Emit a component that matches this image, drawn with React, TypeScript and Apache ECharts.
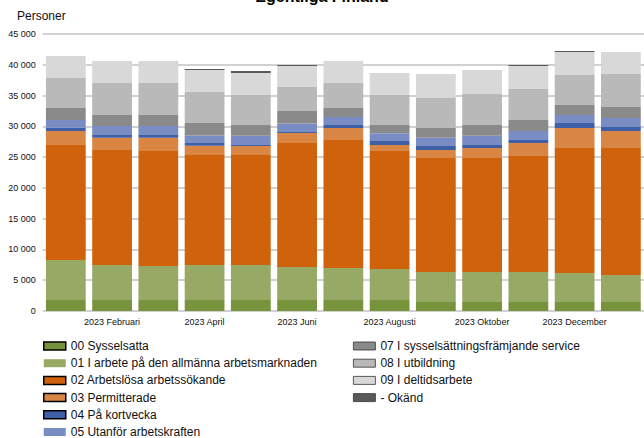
import React, { useEffect, useRef } from "react";
import * as echarts from "echarts";

const categories = [
  "2023 Januari", "2023 Februari", "2023 Mars", "2023 April", "2023 Maj", "2023 Juni",
  "2023 Juli", "2023 Augusti", "2023 September", "2023 Oktober", "2023 November",
  "2023 December", "2024 Januari",
];

const s00 = [1790, 1790, 1790, 1790, 1790, 1790, 1790, 1790, 1460, 1460, 1460, 1460, 1460];
const s01 = [6490, 5680, 5520, 5680, 5680, 5360, 5190, 5030, 4870, 4870, 4870, 4710, 4390];
const s02 = [18680, 18680, 18670, 17860, 17860, 20130, 20790, 19160, 18520, 18520, 18840, 20300, 20620];
const s03 = [2270, 2000, 2170, 1520, 1470, 1630, 1950, 980, 1300, 1620, 2110, 3250, 2760];
const s04 = [540, 430, 430, 430, 160, 160, 490, 650, 650, 490, 490, 810, 650];
const s05 = [1250, 1460, 1460, 1250, 1510, 1410, 1300, 1250, 1350, 1510, 1460, 1300, 1460];
const s07 = [1950, 1790, 1790, 2000, 1740, 2000, 1460, 1350, 1570, 1740, 1790, 1620, 1790];
const s08 = [4870, 5200, 5200, 5040, 4870, 3900, 4060, 4870, 4870, 5030, 5030, 4880, 5360];
const s09 = [3570, 3570, 3570, 3570, 3570, 3410, 3570, 3570, 3900, 3900, 3740, 3730, 3570];
const sOk = [0, 0, 0, 160, 330, 160, 0, 0, 0, 0, 160, 160, 0];

const seriesNames = [
  "00 Sysselsatta",
  "01 I arbete på den allmänna arbetsmarknaden",
  "02 Arbetslösa arbetssökande",
  "03 Permitterade",
  "04 På kortvecka",
  "05 Utanför arbetskraften",
  "07 I sysselsättningsfrämjande service",
  "08 I utbildning",
  "09 I deltidsarbete",
  "- Okänd",
];
const seriesData = [s00, s01, s02, s03, s04, s05, s07, s08, s09, sOk];
const colors = [
  "#77933c", "#97a965", "#d0620c", "#d98544", "#3f5fa6",
  "#7a8cc4", "#8a8a8a", "#bab9b9", "#d8d8d8", "#595959",
];
const yTicks = { min: 0, max: 45000, interval: 5000 };

const FONT = "'Liberation Sans', Arial, sans-serif";

export default function App() {
  const ref = useRef<HTMLDivElement>(null);
  useEffect(() => {
    if (!ref.current) return;
    const chart = echarts.init(ref.current, null, { renderer: "svg" });
    const strong = { borderColor: "#000", borderWidth: 1.5 };
    const thin = { borderColor: "#333", borderWidth: 0.8 };
    const legendStyles = [strong, null, strong, strong, strong, null, thin, thin, thin, thin];
    const legendItem = (i: number) =>
      legendStyles[i] ? { name: seriesNames[i], itemStyle: legendStyles[i] } : { name: seriesNames[i] };
    const legendCommon = {
      orient: "vertical",
      top: 337.5,
      height: 140,
      padding: 0,
      icon: "rect",
      itemWidth: 22,
      itemHeight: 8,
      itemGap: 0.2,
      selectedMode: false,
      textStyle: { fontSize: 12, color: "#111", fontFamily: FONT, lineHeight: 17 },
    };
    chart.setOption({
      animation: false,
      textStyle: { fontFamily: FONT },
      title: {
        text: "Egentliga Finland",
        left: "center",
        top: -17,
        textStyle: { fontSize: 16, fontWeight: "bold", color: "#000", fontFamily: FONT },
      },
      graphic: [
        {
          type: "text",
          x: 17,
          y: 16,
          style: { text: "Personer", fontSize: 12, fill: "#111", font: `12px ${FONT}`, verticalAlign: "middle" },
        },
      ],
      legend: [
        { ...legendCommon, left: 43, data: [0, 1, 2, 3, 4, 5].map(legendItem) },
        { ...legendCommon, left: 353, data: [6, 7, 8, 9].map(legendItem) },
      ],
      grid: { left: 42.7, right: -5.6, top: 34, bottom: 127, containLabel: false },
      xAxis: {
        type: "category",
        data: categories,
        axisLine: { show: false },
        axisTick: { show: false },
        axisLabel: {
          interval: (index: number) => index % 2 === 1,
          fontSize: 9,
          color: "#111",
          margin: 6,
          fontFamily: FONT,
        },
      },
      yAxis: {
        type: "value",
        min: yTicks.min,
        max: yTicks.max,
        interval: yTicks.interval,
        axisLine: { show: false },
        axisTick: { show: false },
        axisLabel: {
          fontSize: 9,
          color: "#111",
          margin: 7,
          fontFamily: FONT,
          formatter: (v: number) => String(v).replace(/\B(?=(\d{3})+(?!\d))/g, " "),
        },
        splitLine: { lineStyle: { color: "#c2c2c2", width: 1.5 } },
      },
      series: seriesNames.map((name, i) => ({
        name,
        type: "bar",
        stack: "total",
        barCategoryGap: "14%",
        data: seriesData[i],
        itemStyle: { color: colors[i] },
      })),
    });
    return () => chart.dispose();
  }, []);
  return (
    <div
      ref={ref}
      style={{ position: "fixed", left: 0, top: 0, width: 644, height: 438, background: "#fff" }}
    />
  );
}
